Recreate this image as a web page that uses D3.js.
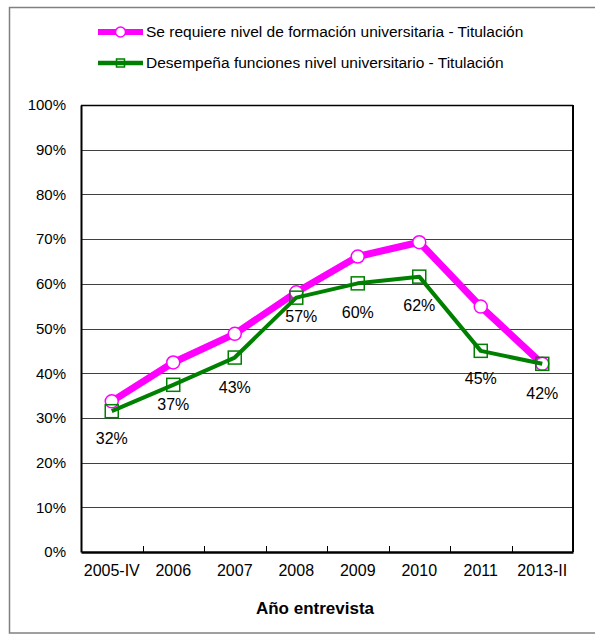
<!DOCTYPE html>
<html><head><meta charset="utf-8">
<script src="https://cdn.jsdelivr.net/npm/d3@7"></script>
<style>body{margin:0;background:#fff}svg{display:block}text{font-family:"Liberation Sans",Arial,sans-serif}</style>
</head><body><svg id="c" width="595" height="635"></svg>
<script>
const categories = ["2005-IV","2006","2007","2008","2009","2010","2011","2013-II"];
const seriesNames = ["Se requiere nivel de formación universitaria - Titulación","Desempeña funciones nivel universitario - Titulación"];
const requiere = [33.7, 42.4, 48.8, 58.1, 66.1, 69.3, 54.9, 42.1];
const desempena = [31.5, 37.4, 43.5, 56.9, 60.1, 61.6, 45.0, 42.1];
const desempenaLabels = ["32%","37%","43%","57%","60%","62%","45%","42%"];
const yTicks = [0,10,20,30,40,50,60,70,80,90,100];
const labelDy = [27, 20, 30, 19, 29, 29, 28, 30];

const svg = d3.select("#c");
const L = 81, R = 573, T = 105, B = 552;
const x = d3.scaleBand().domain(categories).range([L, R]);
const y = d3.scaleLinear().domain([0, 100]).range([B, T]);
const cx = d => x(d) + x.bandwidth() / 2;

// outer border
svg.append("rect").attr("x", 9.5).attr("y", 7.5).attr("width", 600).attr("height", 625.5)
  .attr("fill", "none").attr("stroke", "#808080").attr("stroke-width", 1.5);

// gridlines
svg.append("g").selectAll("line").data(yTicks.filter(t => t > 0 && t < 100)).join("line")
  .attr("x1", L).attr("x2", R).attr("y1", d => Math.round(y(d)) + 0.5).attr("y2", d => Math.round(y(d)) + 0.5)
  .attr("stroke", "#404040").attr("stroke-width", 1);

// plot frame
svg.append("line").attr("x1", L).attr("x2", R).attr("y1", T + 0.5).attr("y2", T + 0.5).attr("stroke", "#000").attr("stroke-width", 1.5);
svg.append("line").attr("x1", R).attr("x2", R).attr("y1", T).attr("y2", B).attr("stroke", "#000").attr("stroke-width", 2);

// y axis
const yAxis = svg.append("g").attr("transform", `translate(${L},0)`)
  .call(d3.axisLeft(y).tickValues(yTicks).tickSize(0).tickPadding(15).tickFormat(d => d + "%"));
yAxis.select(".domain").attr("stroke", "#000").attr("stroke-width", 2);
yAxis.selectAll("text").attr("font-size", 15).attr("fill", "#000");

// x axis
const xAxis = svg.append("g").attr("transform", `translate(0,${B})`)
  .call(d3.axisBottom(x).tickSize(0).tickPadding(13));
xAxis.select(".domain").attr("stroke", "#000").attr("stroke-width", 2.5);
xAxis.selectAll("text").attr("font-size", 16).attr("fill", "#000");
// inner ticks at category boundaries
svg.append("g").selectAll("line").data(categories.slice(1)).join("line")
  .attr("x1", d => Math.round(x(d)) + 0.5).attr("x2", d => Math.round(x(d)) + 0.5)
  .attr("y1", B).attr("y2", B - 6).attr("stroke", "#000").attr("stroke-width", 1);

svg.append("text").attr("x", 315).attr("y", 614).attr("text-anchor", "middle")
  .attr("font-size", 17).attr("font-weight", "bold").text("Año entrevista");

const line = d3.line().x((d, i) => cx(categories[i])).y(d => y(d));

// magenta series
svg.append("path").datum(requiere).attr("d", line).attr("fill", "none")
  .attr("stroke", "#FF00FF").attr("stroke-width", 7).attr("stroke-linejoin", "round");
svg.append("g").selectAll("circle").data(requiere).join("circle")
  .attr("cx", (d, i) => cx(categories[i])).attr("cy", d => y(d)).attr("r", 6.5)
  .attr("fill", "#fff").attr("stroke", "#FF00FF").attr("stroke-width", 1.5);

// green series
svg.append("path").datum(desempena).attr("d", line).attr("fill", "none")
  .attr("stroke", "#008000").attr("stroke-width", 4).attr("stroke-linejoin", "round");
svg.append("g").selectAll("rect").data(desempena).join("rect")
  .attr("x", (d, i) => cx(categories[i]) - 6.5).attr("y", d => y(d) - 6.5)
  .attr("width", 13).attr("height", 13)
  .attr("fill", "none").attr("stroke", "#008000").attr("stroke-width", 1.5);

// data labels
svg.append("g").selectAll("text").data(desempena).join("text")
  .attr("x", (d, i) => cx(categories[i]) + (i === 3 ? 5 : 0)).attr("y", (d, i) => y(d) + labelDy[i])
  .attr("dy", "0.35em").attr("text-anchor", "middle").attr("font-size", 16)
  .text((d, i) => desempenaLabels[i]);

// legend
const leg = svg.append("g");
const legY = [32, 63];
const colors = ["#FF00FF", "#008000"];
seriesNames.forEach((name, i) => {
  leg.append("line").attr("x1", 98).attr("x2", 143).attr("y1", legY[i]).attr("y2", legY[i])
    .attr("stroke", colors[i]).attr("stroke-width", i === 0 ? 6 : 4.5);
  if (i === 0) {
    leg.append("circle").attr("cx", 120.5).attr("cy", legY[i]).attr("r", 5)
      .attr("fill", "#fff").attr("stroke", colors[i]).attr("stroke-width", 1.5);
  } else {
    leg.append("rect").attr("x", 116.5).attr("y", legY[i] - 4).attr("width", 8).attr("height", 8)
      .attr("fill", "none").attr("stroke", colors[i]).attr("stroke-width", 1.5);
  }
  leg.append("text").attr("x", 146).attr("y", legY[i]).attr("dy", "0.35em")
    .attr("font-size", 15.5).text(name);
});
</script></body></html>
